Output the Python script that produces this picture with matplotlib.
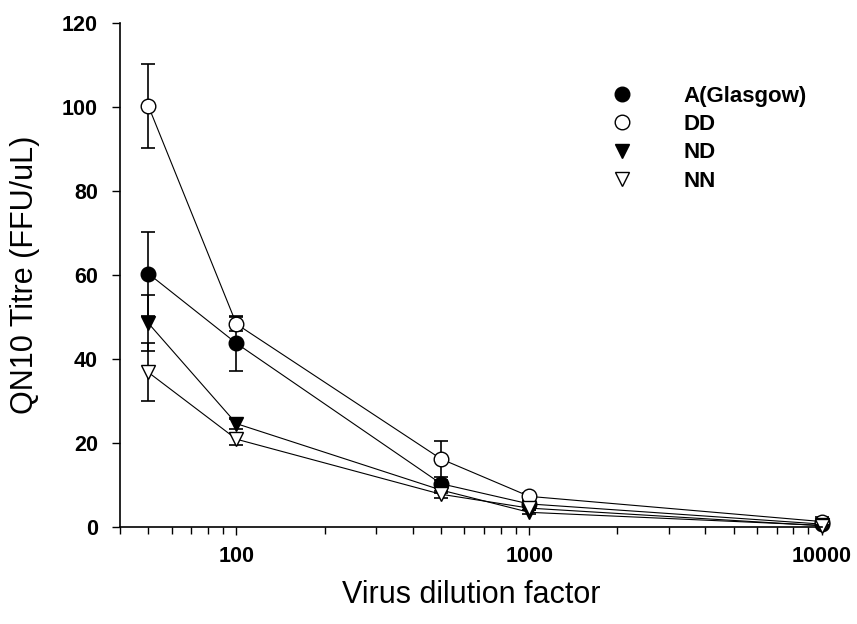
import numpy as np
import matplotlib
matplotlib.use("Agg")
import matplotlib.pyplot as plt
from matplotlib.lines import Line2D
from matplotlib.ticker import LogLocator, FixedLocator, NullFormatter

plt.rcParams['font.family'] = ['Liberation Sans', 'DejaVu Sans']

## data
dilution = [50, 100, 500, 1000, 10000]
names = ['A(Glasgow)', 'DD', 'ND', 'NN']
titre_A = [60.3, 43.7, 10.3, 5.5, 0.7]
err_A = [10.0, 6.6, 1.0, 0.8, 0.3]
titre_DD = [100.2, 48.3, 16.2, 7.3, 1.3]
err_DD = [10.0, 1.6, 4.2, 0.8, 1.0]
titre_ND = [48.5, 24.6, 8.8, 3.5, 0.4]
err_ND = [6.6, 1.2, 0.8, 0.5, 0.2]
titre_NN = [36.8, 20.9, 7.8, 4.5, 0.3]
err_NN = [6.9, 1.5, 0.8, 0.5, 0.2]

series = [(titre_A, err_A, 'o', 'black'),
          (titre_DD, err_DD, 'o', 'white'),
          (titre_ND, err_ND, 'v', 'black'),
          (titre_NN, err_NN, 'v', 'white')]

fig = plt.figure(figsize=(8.57, 6.24), dpi=100)
ax = fig.add_axes([0.140, 0.1554, 0.819, 0.8082])

handles = []
for (y, e, m, fc), nm in zip(series, names):
    eb = ax.errorbar(dilution, y, yerr=e, fmt='none', ecolor='black', elinewidth=1.2,
                     capsize=5, capthick=1.2)
    for art in eb.lines[1] + eb.lines[2]:
        art.set_clip_on(False)
    ax.plot(dilution, y, color='black', lw=0.8, marker=m, markersize=10.5,
            markerfacecolor=fc, markeredgecolor='black', markeredgewidth=1.0,
            clip_on=False)
    handles.append(Line2D([], [], linestyle='none', marker=m, markersize=10.5,
                          markerfacecolor=fc, markeredgecolor='black',
                          markeredgewidth=1.0, label=nm))

ax.set_xscale('log')
ax.set_xlim(40, 10000)
ax.set_ylim(0, 120)
ax.set_yticks(np.arange(0, 121, 20))
ax.xaxis.set_major_locator(FixedLocator([100, 1000, 10000]))
ax.xaxis.set_minor_locator(LogLocator(base=10, subs=np.arange(2, 10)))
ax.xaxis.set_minor_formatter(NullFormatter())
ax.set_xticklabels(['100', '1000', '10000'])

for s in ['top', 'right']:
    ax.spines[s].set_visible(False)
for s in ['left', 'bottom']:
    ax.spines[s].set_linewidth(1.2)

ax.tick_params(axis='both', which='major', direction='out', length=6, width=1.0,
               labelsize=15.5)
ax.tick_params(axis='x', which='minor', direction='out', length=5, width=1.0)
for lab in ax.get_xticklabels() + ax.get_yticklabels():
    lab.set_fontweight('bold')
ax.tick_params(axis='x', pad=8)
ax.tick_params(axis='y', pad=10)

ax.set_xlabel('Virus dilution factor', fontsize=22, labelpad=9)
ax.set_ylabel('QN10 Titre (FFU/uL)', fontsize=22, labelpad=16)

ax.legend(handles=handles, loc='upper left', bbox_to_anchor=(0.699, 0.875),
          frameon=False, prop={'weight': 'bold', 'size': 16},
          borderaxespad=0, borderpad=0,
          handletextpad=2.3, labelspacing=0.33, handlelength=1.0)

fig.savefig('out.png', dpi=100)
